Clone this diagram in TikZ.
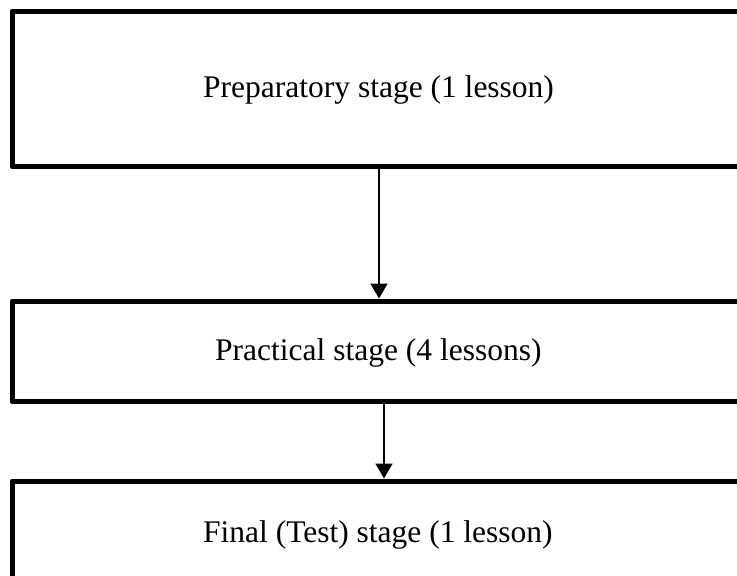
\documentclass[tikz,border=0pt]{standalone}
\usepackage{fontspec}
\setmainfont{Liberation Serif}
\usetikzlibrary{arrows.meta}
\tikzset{
	stagebox/.style = {draw, line width = 5pt, line join = round,
		rectangle, outer sep = 0pt, inner sep = 0pt,
		minimum width = 800pt, anchor = north west},
	stagelabel/.style = {inner sep = 0pt, anchor = base west,
		font = \fontsize{31.5}{38}\selectfont},
	flow/.style = {line width = 1.8pt, shorten > = 2.5pt,
		-{Triangle[length = 15pt, width = 17pt]}}
}

\begin{document}
\begin{tikzpicture}[x = 1pt, y = -1pt]
	
	% frame
	\useasboundingbox (0,0) rectangle (737,576);
	\clip (0,0) rectangle (737,576);
	
	% stages
	\node[stagebox, minimum height = 155.5pt] (prep) at (12,11) {};
	\node[stagebox, minimum height = 100.5pt] (pract) at (12,301) {};
	\node[stagebox, minimum height = 150pt] (final) at (12,481) {};
	
	\node[stagelabel] (prep-lbl) at (203,97) {Preparatory stage (1 lesson)};
	\node[stagelabel] (pract-lbl) at (215,360) {Practical stage (4 lessons)};
	\node[stagelabel] (final-lbl) at (203,542) {Final (Test) stage (1 lesson)};
	
	% arrows
	\coordinate (A1) at (379,0);
	\coordinate (A2) at (384,0);
	\draw[flow] (prep.south -| A1) -- (pract.north -| A1);
	\draw[flow] (pract.south -| A2) -- (final.north -| A2);
	
\end{tikzpicture}
\end{document}
